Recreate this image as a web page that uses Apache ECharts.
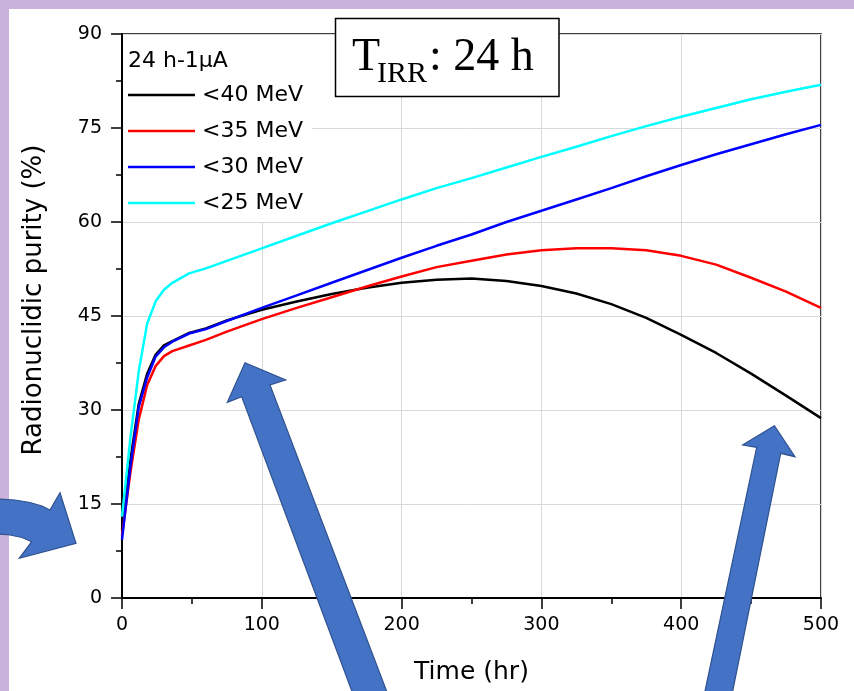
<!DOCTYPE html>
<html>
<head>
<meta charset="utf-8">
<script src="https://cdn.jsdelivr.net/npm/echarts@6/dist/echarts.min.js"></script>
<style>
html,body{margin:0;padding:0;background:#c9b3da;}
#chart{width:854px;height:691px;}
</style>
</head>
<body>
<div id="chart"></div>
<script>
const time = [0,6,12,18,24,30,36,48,60,75,100,125,150,175,200,225,250,275,300,325,350,375,400,425,450,475,500];
const seriesNames = ['<40 MeV','<35 MeV','<30 MeV','<25 MeV'];
const seriesColors = ['#000000','#ff0000','#0000ff','#00ffff'];
const v40 = [10.9,22,31,35.8,38.8,40.3,41.0,42.3,43.0,44.3,46.0,47.3,48.5,49.5,50.3,50.8,51.0,50.6,49.8,48.6,46.9,44.7,42.0,39.1,35.8,32.3,28.7];
const v35 = [10,20,28.5,34.0,37.0,38.6,39.4,40.3,41.2,42.5,44.5,46.3,48.0,49.7,51.3,52.8,53.8,54.8,55.5,55.8,55.8,55.5,54.6,53.2,51.1,48.9,46.3];
const v30 = [9.3,21,30.5,35.2,38.5,40.0,40.9,42.2,42.9,44.2,46.3,48.3,50.3,52.3,54.3,56.2,58.0,60.0,61.8,63.6,65.4,67.3,69.1,70.8,72.4,74.0,75.5];
const v25 = [13.0,25.5,36.2,43.8,47.3,49.2,50.3,51.8,52.6,53.8,55.8,57.8,59.8,61.7,63.6,65.4,67.0,68.7,70.4,72.0,73.7,75.3,76.8,78.2,79.6,80.8,81.9];
const values = [v40, v35, v30, v25];
const xTicks = {min:0, max:500, interval:100};
const yTicks = {min:0, max:90, interval:15};
const legendTitle = '24 h-1\u03bcA';
const xName = 'Time (hr)';
const yName = 'Radionuclidic purity (%)';

const chart = echarts.init(document.getElementById('chart'));
const F = 'DejaVu Sans';
const arrowStyle = {fill:'#4472c4', stroke:'#2f528f', lineWidth:1.2};
const option = {
  backgroundColor: '#c9b3da',
  animation: false,
  grid: {left:122, right:33, top:34, bottom:93, show:true, borderColor:'#000', borderWidth:1.5, backgroundColor:'#fff'},
  xAxis: {
    type:'value', min:xTicks.min, max:xTicks.max, interval:xTicks.interval,
    name:xName, nameLocation:'middle', nameGap:62,
    nameTextStyle:{fontFamily:F, fontSize:25, color:'#000'},
    axisLine:{lineStyle:{color:'#000', width:2}},
    axisTick:{inside:false, length:11, lineStyle:{color:'#000', width:1.5}},
    minorTick:{show:true, splitNumber:2, length:6, lineStyle:{color:'#000', width:1.5}},
    axisLabel:{fontFamily:F, fontSize:19, color:'#000', margin:18},
    splitLine:{show:true, lineStyle:{color:'#d9d9d9', width:1}}
  },
  yAxis: {
    type:'value', min:yTicks.min, max:yTicks.max, interval:yTicks.interval,
    name:yName, nameLocation:'middle', nameGap:75, nameRotate:90,
    nameTextStyle:{fontFamily:F, fontSize:26, color:'#000', padding:[0,0,0,32]},
    axisLine:{show:true, lineStyle:{color:'#000', width:2}},
    axisTick:{show:true, inside:false, length:11, lineStyle:{color:'#000', width:1.5}},
    minorTick:{show:true, splitNumber:2, length:6, lineStyle:{color:'#000', width:1.5}},
    axisLabel:{fontFamily:F, fontSize:19, color:'#000', margin:20},
    splitLine:{show:true, lineStyle:{color:'#d9d9d9', width:1}}
  },
  legend: {
    orient:'vertical', left:128, top:82, padding:0,
    icon:'rect', itemWidth:67, itemHeight:2.5, itemGap:10,
    textStyle:{fontFamily:F, fontSize:22, color:'#000', lineHeight:26, padding:[0,0,0,2]},
    data: seriesNames.map(n => ({name:n}))
  },
  series: seriesNames.map((n,i) => ({
    name:n, type:'line', symbol:'none', showSymbol:false, smooth:false,
    color:seriesColors[i],
    lineStyle:{color:seriesColors[i], width:2.5},
    data: time.map((t,j) => [t, values[i][j]]),
    z: 3 + i
  })),
  graphic: [
    {type:'rect', z:-100, shape:{x:9, y:9, width:845, height:682}, style:{fill:'#fff'}, silent:true},
    {type:'rect', z:1, shape:{x:123, y:35, width:189, height:187}, style:{fill:'#fff'}, silent:true},
    {type:'text', z:10, x:128, y:61, style:{text:legendTitle, fontFamily:F, fontSize:22, fill:'#000', verticalAlign:'middle', align:'left'}},
    {type:'rect', z:20, shape:{x:335.5, y:18.5, width:223.5, height:78}, style:{fill:'#fff', stroke:'#000', lineWidth:1.5}},
    {type:'text', z:21, x:352, y:58, style:{text:'T', fontFamily:'Liberation Serif', fontSize:46, fill:'#000', verticalAlign:'middle', align:'left'}},
    {type:'text', z:21, x:377, y:74.5, style:{text:'IRR', fontFamily:'Liberation Serif', fontSize:30, fill:'#000', verticalAlign:'middle', align:'left'}},
    {type:'text', z:21, x:429, y:58, style:{text:': 24 h', fontFamily:'Liberation Serif', fontSize:46, fill:'#000', verticalAlign:'middle', align:'left'}},
    {type:'polygon', z:30, shape:{points:[[-2,499],[15,500],[30,502.5],[42,506],[50,510],[60,492.7],[76,543.3],[19.3,558.3],[31.7,541.7],[22,537.5],[10,535],[-2,534]]}, style:arrowStyle},
    {type:'polygon', z:30, shape:{points:[[245,362.7],[285.7,380],[270,385],[390,700],[355.2,700],[241.7,396.7],[227.3,402.3]]}, style:arrowStyle},
    {type:'polygon', z:30, shape:{points:[[774.3,425.7],[795,456.7],[780.7,453.3],[730.9,700],[703.1,700],[756.7,447.3],[742.7,445]]}, style:arrowStyle}
  ]
};
chart.setOption(option);
</script>
</body>
</html>
